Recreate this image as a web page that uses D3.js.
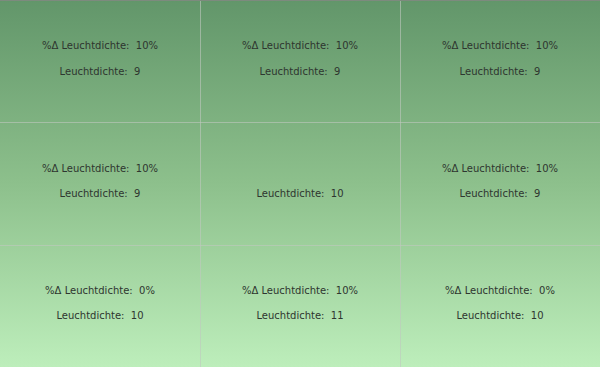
<!DOCTYPE html>
<html>
<head>
<meta charset="utf-8">
<script src="https://cdn.jsdelivr.net/npm/d3@7"></script>
<style>
  html, body { margin: 0; padding: 0; background: #fff; }
  svg { display: block; }
  text { font-family: "DejaVu Sans", sans-serif; font-size: 10px; fill: #2e352f; white-space: pre; }
</style>
</head>
<body>
<div id="chart"></div>
<script>
// grid of 3x3 cells, read row by row
const rows = ["r1", "r2", "r3"];
const cols = ["c1", "c2", "c3"];
const deltaPct = [10, 10, 10, 10, null, 10, 0, 10, 0];
const leuchtdichte = [9, 9, 9, 9, 10, 9, 10, 11, 10];

const width = 600, height = 367;

const cells = deltaPct.map((d, i) => ({
  row: rows[Math.floor(i / 3)],
  col: cols[i % 3],
  delta: d,
  value: leuchtdichte[i]
}));

const svg = d3.select("#chart").append("svg")
  .attr("width", width)
  .attr("height", height);

const defs = svg.append("defs");
const grad = defs.append("linearGradient")
  .attr("id", "bg")
  .attr("x1", 0).attr("y1", 0).attr("x2", 0).attr("y2", 1);
grad.append("stop").attr("offset", "0%").attr("stop-color", "#62966a");
grad.append("stop").attr("offset", "50%").attr("stop-color", "#8dc08c");
grad.append("stop").attr("offset", "100%").attr("stop-color", "#bdeebb");

svg.append("rect")
  .attr("width", width)
  .attr("height", height)
  .attr("fill", "url(#bg)");

const x = d3.scaleBand().domain(cols).range([0, width]);
const y = d3.scaleBand().domain(rows).range([0, height]);

// grid lines
const grid = svg.append("g").attr("stroke", "#c0c8c0").attr("stroke-opacity", 0.6).attr("stroke-width", 1);
cols.slice(1).forEach(c => {
  const xx = Math.round(x(c)) + 0.5;
  grid.append("line").attr("x1", xx).attr("x2", xx).attr("y1", 0).attr("y2", height);
});
rows.slice(1).forEach(r => {
  const yy = Math.round(y(r)) + 0.5;
  grid.append("line").attr("x1", 0).attr("x2", width).attr("y1", yy).attr("y2", yy);
});

// top border
svg.append("line")
  .attr("x1", 0).attr("x2", width).attr("y1", 0.5).attr("y2", 0.5)
  .attr("stroke", "#7d8a7e");

const cell = svg.selectAll(".cell")
  .data(cells)
  .enter().append("g")
  .attr("class", "cell")
  .attr("transform", d => `translate(${x(d.col) + x.bandwidth() / 2},${y(d.row) + y.bandwidth() / 2})`);

cell.filter(d => d.delta !== null)
  .append("text")
  .attr("text-anchor", "middle")
  .attr("y", -12)
  .text(d => `%Δ Leuchtdichte:  ${d.delta}%`);

cell.append("text")
  .attr("text-anchor", "middle")
  .attr("y", 13.5)
  .text(d => `Leuchtdichte:  ${d.value}`);
</script>
</body>
</html>
